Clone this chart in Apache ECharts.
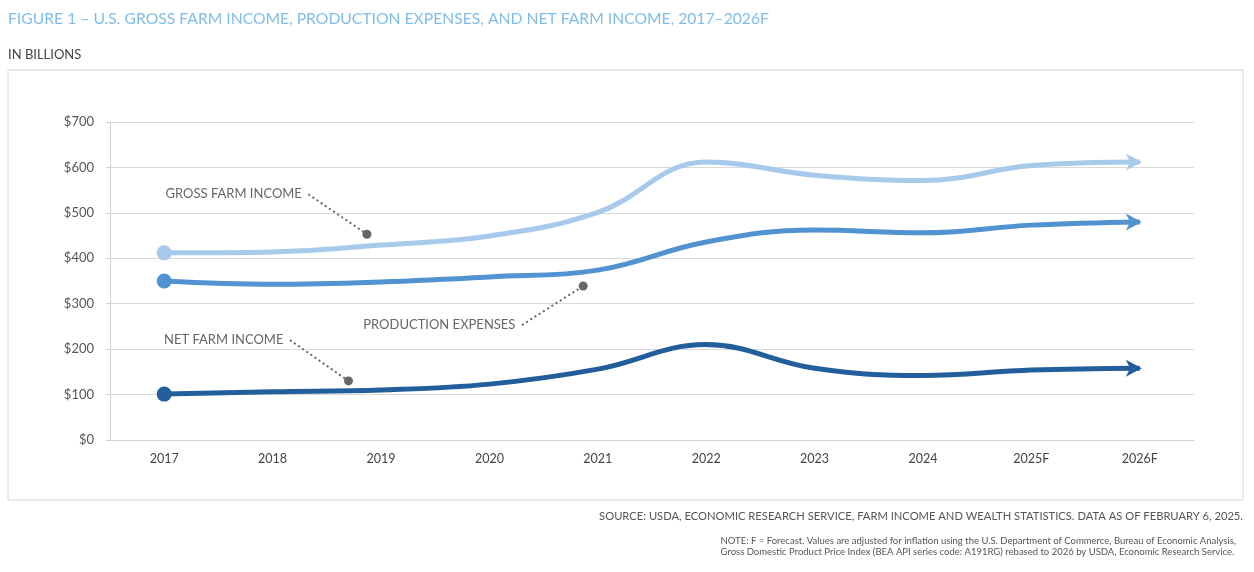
<!DOCTYPE html>
<html>
<head>
<meta charset="utf-8">
<title>U.S. Gross Farm Income, Production Expenses, and Net Farm Income</title>
<script src="https://cdn.jsdelivr.net/npm/echarts@6/dist/echarts.min.js"></script>
<style>
    html, body { margin: 0; padding: 0; background: #fff; }
    #chart { width: 1254px; height: 572px; }
</style>
</head>
<body>
<div id="chart"></div>
<script>
// values, billions of dollars
var years = ['2017', '2018', '2019', '2020', '2021', '2022', '2023', '2024', '2025F', '2026F'];
var grossIncome = [412, 414, 429, 449, 501, 612, 583, 571, 604, 612];
var prodExpenses = [350, 343, 348, 359, 374, 436, 462, 456, 473, 480];
var netIncome = [101, 106, 110, 123, 156, 210, 158, 142, 154, 158];
var yTicks = [0, 100, 200, 300, 400, 500, 600, 700];

// callouts: label, where the leader starts, where the dot sits (category index, value)
var callouts = [
    ['GROSS FARM INCOME', [1.33, 541], [1.87, 453]],
    ['PRODUCTION EXPENSES', [3.30, 253], [3.865, 339]],
    ['NET FARM INCOME', [1.16, 220], [1.70, 130]]
];

var arrowPath = 'path://M0,0 L15,8 L0,16 L4,8 Z';
var fontName = 'Lato, "Noto Sans", sans-serif';

// first point gets a round cap, last point an arrow head
function withEnds(values) {
    return values.map(function (v, i) {
        if (i === 0) {
            return { value: v, symbol: 'circle', symbolSize: 15 };
        }
        if (i === values.length - 1) {
            return { value: v, symbol: arrowPath, symbolSize: [16, 17], symbolOffset: [-6, 0] };
        }
        return { value: v, symbol: 'none' };
    });
}

function mainSeries(name, values, color) {
    return {
        name: name,
        type: 'line',
        smooth: 0.4,
        data: withEnds(values),
        showSymbol: true,
        lineStyle: { color: color, width: 5 },
        itemStyle: { color: color },
        z: 3
    };
}

var calloutSeries = callouts.map(function (c) {
    return {
        type: 'line',
        xAxisIndex: 1,
        data: [
            {
                value: c[1], symbol: 'circle', symbolSize: 1,
                itemStyle: { color: 'rgba(0,0,0,0)' },
                label: {
                    show: true, position: 'left', distance: 6,
                    formatter: c[0], color: '#666', fontSize: 13, fontFamily: fontName
                }
            },
            { value: c[2], symbol: 'circle', symbolSize: 9, itemStyle: { color: '#666' } }
        ],
        showSymbol: true,
        lineStyle: { color: '#666', width: 2, type: [2, 3] },
        z: 4
    };
});

var myChart = echarts.init(document.getElementById('chart'));
var option = {
    animation: false,
    textStyle: { fontFamily: fontName },
    graphic: [
        {
            type: 'text', left: 8, top: 11,
            style: {
                text: 'FIGURE 1 \u2013 U.S. GROSS FARM INCOME, PRODUCTION EXPENSES, AND NET FARM INCOME, 2017\u20132026F',
                fill: '#7fbde8', font: '15.7px ' + fontName
            }
        },
        {
            type: 'text', left: 8, top: 48,
            style: { text: 'IN BILLIONS', fill: '#444', font: '13px ' + fontName }
        },
        {
            type: 'rect', shape: { x: 8, y: 70, width: 1235, height: 430 },
            style: { fill: 'none', stroke: '#d6d6d6', lineWidth: 1 }, z: -1
        },
        {
            type: 'text', right: 11, top: 511,
            style: {
                text: 'SOURCE: USDA, ECONOMIC RESEARCH SERVICE, FARM INCOME AND WEALTH STATISTICS. DATA AS OF FEBRUARY 6, 2025.',
                fill: '#555', font: '11.2px ' + fontName
            }
        },
        {
            type: 'text', right: 18, top: 535,
            style: {
                text: 'NOTE: F = Forecast. Values are adjusted for inflation using the U.S. Department of Commerce, Bureau of Economic Analysis,\nGross Domestic Product Price Index (BEA API series code: A191RG) rebased to 2026 by USDA, Economic Research Service.',
                fill: '#555', font: '9.5px ' + fontName, align: 'right', lineHeight: 11
            }
        }
    ],
    grid: { left: 110, right: 60, top: 122, bottom: 132 },
    xAxis: [
        {
            type: 'category',
            data: years,
            boundaryGap: true,
            axisLine: { lineStyle: { color: '#cfcfcf' } },
            axisTick: { show: false },
            axisLabel: { color: '#444', fontSize: 12.5, margin: 12 },
            splitLine: { show: false }
        },
        {
            type: 'value',
            min: -0.5,
            max: 9.5,
            show: false
        }
    ],
    yAxis: {
        type: 'value',
        min: yTicks[0],
        max: yTicks[yTicks.length - 1],
        interval: 100,
        axisLine: { show: true, onZero: false, lineStyle: { color: '#cfcfcf' } },
        axisTick: { show: true, length: 4, lineStyle: { color: '#cfcfcf' } },
        axisLabel: {
            color: '#555', fontSize: 13, margin: 16,
            formatter: function (v) { return '$' + v; }
        },
        splitLine: { lineStyle: { color: '#d9d9d9' } }
    },
    series: [
        mainSeries('Gross farm income', grossIncome, '#a7c9eb'),
        mainSeries('Production expenses', prodExpenses, '#5093d0'),
        mainSeries('Net farm income', netIncome, '#235e9c')
    ].concat(calloutSeries)
};
myChart.setOption(option);
</script>
</body>
</html>
